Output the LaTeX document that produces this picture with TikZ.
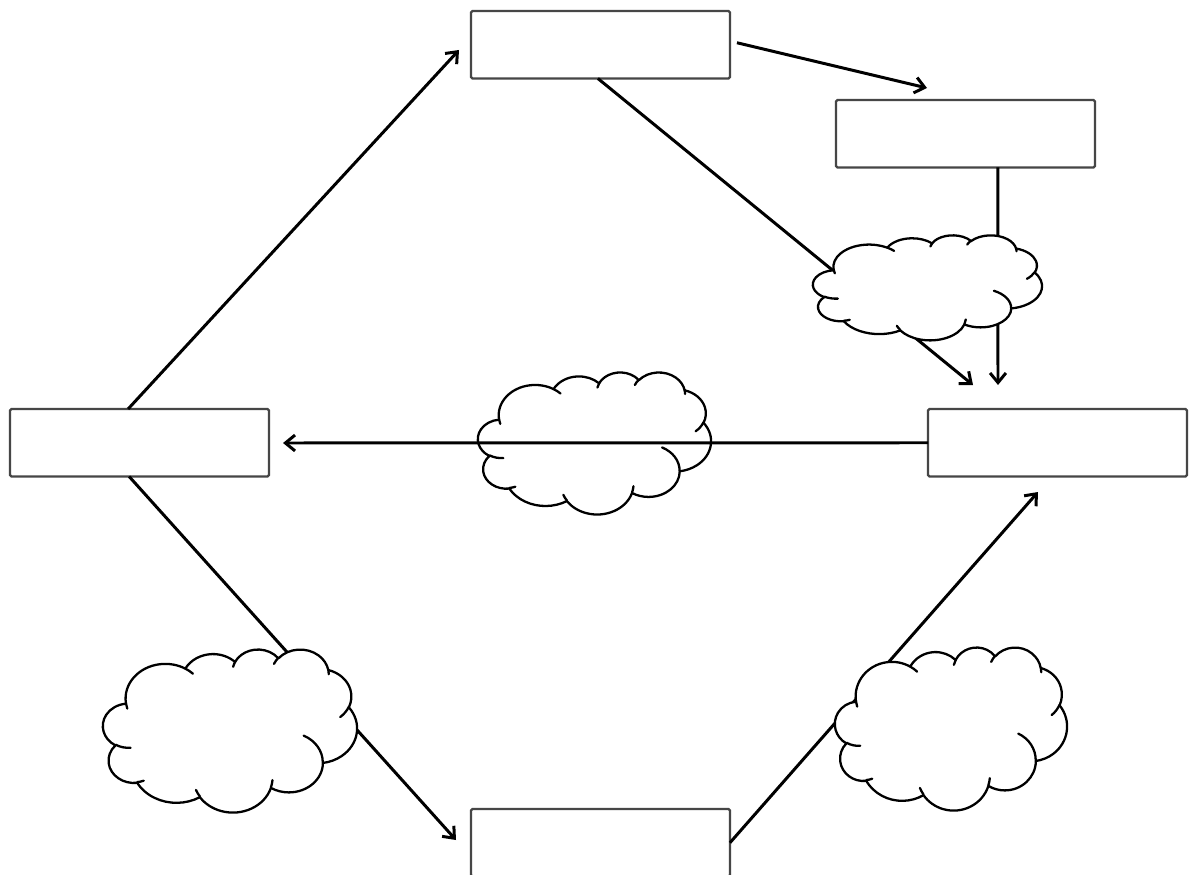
\documentclass[tikz,border=0pt]{standalone}
\usetikzlibrary{arrows.meta,calc}
\makeatletter
\pgfmathdeclarefunction{vpar}{3}{%
  \begingroup
    \pgfmathparse{atan2(sin(#1)*(#2)/(#3),cos(#1))-(#1)}%
    \edef\vp@d{\pgfmathresult}%
    \pgfmathparse{round((\vp@d)/360)}%
    \edef\vp@r{\pgfmathresult}%
    \pgfmathparse{(#1)+(\vp@d)-360*(\vp@r)}%
    \pgfmath@smuggleone\pgfmathresult
  \endgroup}
\makeatother
\tikzset{
  ca/.style n args={4}{insert path={arc[start angle={vpar(#3,#1,#2)},end angle={vpar((#3)+(#4),#1,#2)},x radius=#1,y radius=#2]}},
  box/.style={draw={rgb,255:red,70;green,70;blue,70},line width=1.3pt,fill=white,
    minimum width=5.18cm,minimum height=1.35cm,inner sep=0pt,outer sep=0pt,
    rounded corners=0.8pt,anchor=north west},
  conn/.style={line width=1.7pt,-{Straight Barb[length=5.5pt,width=9pt]}},
  cloudline/.style={draw=black,line width=1.3pt,fill=white,line join=round},
  cloudinner/.style={draw=black,line width=1.3pt,line cap=round}
}
\newcommand\pptcloud[4]{%
  \begin{scope}[shift={(#1,#2)},xscale={((#3)-(#1))/43.2},yscale={((#4)-(#2))/43.2}]
    \path[cloudline] (3.9,14.37)
      [ca={6.753}{9.19}{-190.48748}{123.78053}]
      [ca={5.333}{7.267}{-144.10238}{89.94523}]
      [ca={4.365}{5.945}{-145.80792}{99.72302}]
      [ca={4.857}{6.595}{-130.98607}{117.24173}]
      [ca={5.333}{7.273}{-78.70888}{109.02692}]
      [ca={6.775}{9.22}{-46.26725}{130.269}]
      [ca={5.785}{7.867}{0.62502}{114.03333}]
      [ca={6.752}{9.215}{22.4516}{115.17255}]
      [ca={7.72}{10.543}{66.24263}{75.71102}]
      [ca={4.36}{5.918}{-274.94208}{146.73557}]
      [ca={4.345}{5.945}{-246.8285}{152.51885}]
      -- cycle;
    \path[cloudinner]
      (4.693,26.177) [ca={4.345}{5.945}{86.742}{26.4295}]
      (6.928,34.899) [ca={4.36}{5.918}{73.61047}{11.44747}]
      (16.478,39.09) [ca={6.752}{9.215}{137.62415}{14.0811}]
      (28.827,34.751) [ca={6.752}{9.215}{6.45327}{15.99835}]
      (34.129,22.954) [ca={5.785}{7.867}{-70.29235}{70.91737}]
      (41.798,15.354) [ca={5.333}{7.273}{30.31803}{27.7515}]
      (38.324,5.426) [ca={4.857}{6.595}{-13.74433}{14.8589}]
      (29.078,3.952) [ca={4.857}{6.595}{-149.18145}{18.19537}]
      (22.141,4.72) [ca={4.365}{5.945}{-163.49427}{17.68635}]
      (14,5.192) [ca={6.753}{9.19}{-66.70695}{12.31935}]
      (4.127,15.789) [ca={6.753}{9.19}{157.65435}{11.85817}];
  \end{scope}}
\begin{document}
\begin{tikzpicture}[x=0.02cm,y=-0.02cm]
  \useasboundingbox (0,0) rectangle (1191,875);
  \fill[white] (0,0) rectangle (1191,875);
  \clip (0,0) rectangle (1191,875);
  % boxes
  \node[box] (top) at (471,11) {};
  \node[box] (rtop) at (836,100) {};
  \node[box] (left) at (10,409) {};
  \node[box] (right) at (928,409) {};
  \node[box] (bottom) at (471,809) {};
  % arrow tips
  \coordinate (t1) at (459,50);
  \coordinate (t2) at (927,88);
  \coordinate (t3) at (973,385);
  \coordinate (t4) at (998,385);
  \coordinate (t5) at (283,443);
  \coordinate (t6) at (456,840);
  \coordinate (t7) at (1038,492);
  % cloud behind the horizontal connector
  \pptcloud{478}{372}{711}{514}
  % connectors
  \draw[conn] ($(left.north west)!0.456!(left.north east)$) -- (t1);
  \draw[conn] ($(top.east)+(7,-2)$) -- (t2);
  \draw[conn] ($(top.south west)!0.49!(top.south east)$) -- (t3);
  \draw[conn] ($(rtop.south west)!0.625!(rtop.south east)$) -- (t4);
  \draw[conn] (right.west) -- (t5);
  \draw[conn] ($(left.south west)!0.46!(left.south east)$) -- (t6);
  \draw[conn] (bottom.east) -- (t7);
  % clouds over the connectors
  \pptcloud{813}{235}{1042}{340}
  \pptcloud{103}{649}{357}{812}
  \pptcloud{835}{647}{1067}{810}
\end{tikzpicture}
\end{document}
